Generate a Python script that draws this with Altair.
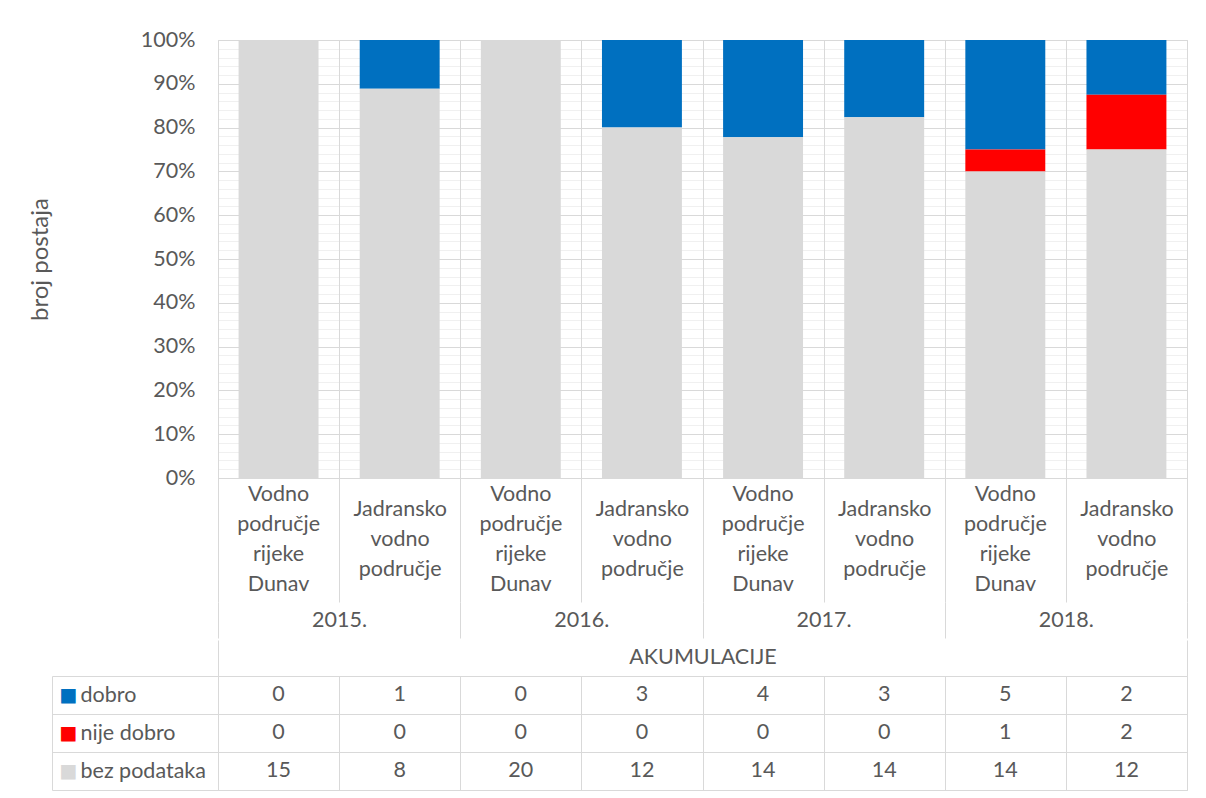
import altair as alt
import pandas as pd

# ---------------- data ----------------
years = ["2015.", "2016.", "2017.", "2018."]
regions = ["Vodno područje rijeke Dunav", "Jadransko vodno područje"]
series = ["dobro", "nije dobro", "bez podataka"]
colors = ["#0070C0", "#FF0000", "#D9D9D9"]
dobro = [0, 1, 0, 3, 4, 3, 5, 2]
nije_dobro = [0, 0, 0, 0, 0, 0, 1, 2]
bez_podataka = [15, 8, 20, 12, 14, 14, 14, 12]
# axis ticks every 2 % (labels and strong grid every 10 %)
y_ticks = [v / 100 for v in range(0, 101, 2)]

keys = [f"{y}|{r}" for y in years for r in regions]
stack_rank = {"bez podataka": 0, "nije dobro": 1, "dobro": 2}
rows = []
for i, k in enumerate(keys):
    for s, vals in zip(series, [dobro, nije_dobro, bez_podataka]):
        rows.append({"key": k, "series": s, "count": vals[i], "rank": stack_rank[s]})
df = pd.DataFrame(rows)

FONT = "Lato"
TXT = "#595959"
GRID = "#D9D9D9"
MINOR = "#F0F0F0"
FS = 21.5

band = alt.Scale(type="band", paddingInner=0, paddingOuter=0)
is_dunav = "indexof(datum.label, 'Dunav') >= 0"
lines_expr = "split(slice(datum.label, 6), ' ')"
is_major = "round(datum.value * 100) % 10 === 0"

# ---------------- bar chart ----------------
x_cat = alt.X(
    "key:N", sort=keys, scale=band,
    axis=alt.Axis(
        title=None, orient="bottom", tickBand="extent",
        grid=True, gridColor=GRID, domain=True, domainColor=GRID,
        ticks=True, tickColor=GRID, tickSize=124,
        labelExpr=f"{is_dunav} ? '' : {lines_expr}", labelAngle=0,
        labelBaseline="middle", labelPadding=-93, labelLineHeight=30,
        labelFont=FONT, labelFontSize=FS, labelColor=TXT, labelLimit=0,
        zindex=1,
    ),
)

x_cat_dunav = alt.X(
    "key:N", sort=keys, scale=band,
    axis=alt.Axis(
        title=None, orient="bottom", grid=False, domain=False, ticks=False,
        labelExpr=f"{is_dunav} ? {lines_expr} : ''", labelAngle=0,
        labelBaseline="middle", labelPadding=16, labelLineHeight=30,
        labelFont=FONT, labelFontSize=FS, labelColor=TXT, labelLimit=0,
    ),
)

x_year = alt.X(
    "key:N", sort=keys, scale=band,
    axis=alt.Axis(
        title=None, orient="bottom", offset=124, grid=False, domain=False,
        ticks=True, tickBand="extent", tickSize=36, tickColor=GRID,
        tickOpacity={"condition": {"test": "datum.extra || indexof(datum.value, 'Jadransko') >= 0", "value": 1}, "value": 0},
        labelExpr=f"{is_dunav} ? slice(datum.label, 0, 5) : ''", labelAngle=0,
        labelOffset=60.5, labelBaseline="middle", labelPadding=-18,
        labelFont=FONT, labelFontSize=FS, labelColor=TXT, labelLimit=0,
    ),
)

y_axis = alt.Axis(
    values=y_ticks, format=".0%", labelExpr=f"{is_major} ? datum.label : ''",
    grid=True, gridColor={"condition": {"test": is_major, "value": GRID}, "value": MINOR},
    ticks=False, domain=False, labelPadding=23,
    labelFont=FONT, labelFontSize=FS, labelColor=TXT,
    title="broj postaja", titleFont=FONT, titleFontSize=24,
    titleFontWeight="normal", titleColor=TXT, titlePadding=88,
)

y_enc = alt.Y("count:Q", stack="normalize", scale=alt.Scale(domain=[0, 1]), axis=y_axis)
color_enc = alt.Color("series:N", scale=alt.Scale(domain=series, range=colors), legend=None)
order_enc = alt.Order("rank:Q")

bars = alt.Chart(df).mark_bar(width=alt.RelativeBandSize(0.66)).encode(
    x=x_cat, y=y_enc, color=color_enc, order=order_enc
)
# invisible copies of the bars, used only to carry the extra label axes
dunav_layer = alt.Chart(df).mark_bar(opacity=0, width=alt.RelativeBandSize(0.66)).encode(
    x=x_cat_dunav, y=y_enc, color=color_enc, order=order_enc
)
year_layer = alt.Chart(df).mark_bar(opacity=0, width=alt.RelativeBandSize(0.66)).encode(
    x=x_year, y=y_enc, color=color_enc, order=order_enc
)

bar_chart = alt.layer(bars, dunav_layer, year_layer).resolve_axis(
    x="independent"
).properties(width=969, height=438)

# ---------------- data table ----------------
last_key = keys[-1]
tbl_x = alt.X(
    "key:N", sort=keys, scale=band,
    axis=alt.Axis(
        orient="top", title="AKUMULACIJE", titleFont=FONT, titleFontSize=FS,
        titleFontWeight="normal", titleColor=TXT, titlePadding=-29,
        labels=False, domain=False, ticks=True, tickBand="extent",
        tickSize=36, tickColor=GRID,
        tickOpacity={"condition": {"test": f"datum.extra || datum.value === '{last_key}'", "value": 1}, "value": 0},
        grid=True, gridColor=GRID,
    ),
)

tbl_y_text = alt.Y(
    "series:N", sort=series, scale=band,
    axis=alt.Axis(
        orient="left", title=None, domain=False, ticks=True, tickBand="extent",
        tickSize=166, tickColor=GRID, grid=True, gridColor=GRID,
        labelAlign="left", labelBaseline="middle", labelPadding=-28,
        labelFont=FONT, labelFontSize=FS, labelColor=TXT,
    ),
)

marker_color = {
    "condition": [
        {"test": f"datum.value === '{s}'", "value": c} for s, c in zip(series[:-1], colors[:-1])
    ],
    "value": colors[-1],
}

tbl_y_marker = alt.Y(
    "series:N", sort=series, scale=band,
    axis=alt.Axis(
        orient="left", title=None, offset=166, domain=True, domainColor=GRID,
        ticks=False, grid=False, labelExpr="'■'", labelAlign="left",
        labelBaseline="middle", labelPadding=-7, labelFont="DejaVu Sans",
        labelFontSize=19, labelColor=marker_color,
    ),
)

tbl_text = alt.Chart(df).mark_text(font=FONT, fontSize=FS, color=TXT).encode(
    x=tbl_x, y=tbl_y_text, text="count:Q"
)
tbl_marker = alt.Chart(df).mark_point(opacity=0).encode(y=tbl_y_marker)

table = alt.layer(tbl_text, tbl_marker).resolve_axis(y="independent").properties(
    width=969, height=114
)

chart = (
    alt.vconcat(bar_chart, table, spacing=0)
    .properties(padding={"left": 19, "top": 20, "right": 10, "bottom": 5}, background="white")
    .configure(font=FONT)
    .configure_view(stroke=GRID)
)

chart.save("out.html", embed_options={"renderer": "svg", "actions": False})
